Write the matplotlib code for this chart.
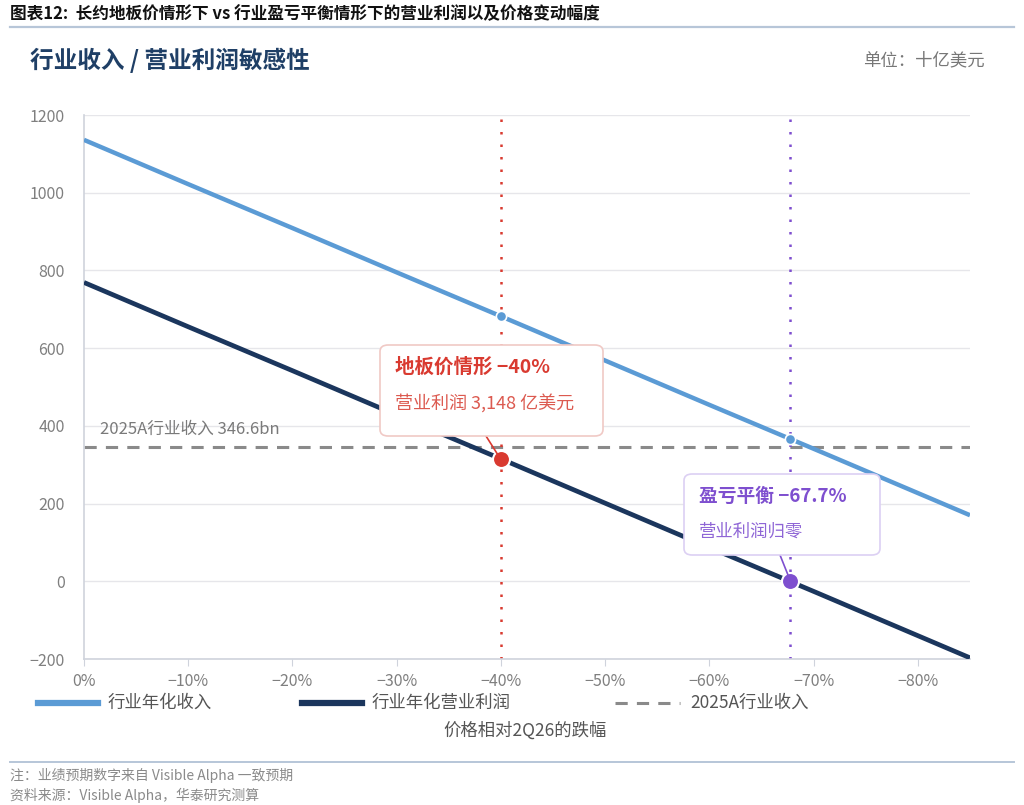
"""
Industry revenue / operating profit sensitivity to price decline.
Writes out.png (1024x805).
"""

import matplotlib.pyplot as plt
from matplotlib.patches import FancyBboxPatch
from matplotlib.lines import Line2D

plt.rcParams["font.family"] = ["Noto Sans CJK SC", "DejaVu Sans"]

# --- data (in bn USD) ----------------------------------------------------
price_drop = [0, -10, -20, -30, -40, -50, -60, -70, -80, -85]
revenue = [1136, 1022, 909, 795, 682, 568, 454, 341, 227, 170]
op_profit = [769, 655, 542, 428, 315, 201, 87, -26, -140, -197]

rev_2025a = 346.6
floor_drop, floor_rev, floor_profit = -40, 682, 314.8
be_drop, be_rev, be_profit = -67.7, 367, 0

x_ticks = [0, -10, -20, -30, -40, -50, -60, -70, -80]
x_tick_labels = ["0%", "−10%", "−20%", "−30%", "−40%", "−50%", "−60%",
                 "−70%", "−80%"]
y_ticks = [-200, 0, 200, 400, 600, 800, 1000, 1200]
y_tick_labels = ["−200", "0", "200", "400", "600", "800", "1000", "1200"]

# --- colours -------------------------------------------------------------
COL_REV = "#5b9bd5"
COL_PROFIT = "#1b365d"
COL_DASH = "#8a8a8a"
COL_RED = "#d93a30"
COL_PURPLE = "#7e4fcf"
COL_GRID = "#e6e6ea"
COL_TICK = "#7f7f7f"
COL_TITLE = "#1f3f66"

W, H = 1024, 805
fig = plt.figure(figsize=(W / 100, H / 100), dpi=100)


def px(x, y):
    """Pixel coords (origin top-left) -> figure fraction."""
    return x / W, 1 - y / H


ax = fig.add_axes([84 / W, 1 - 659 / H, (970 - 84) / W, (659 - 115) / H])

ax.plot(price_drop, revenue, color=COL_REV, lw=3.2, solid_capstyle="butt",
        zorder=3)
ax.plot(price_drop, op_profit, color=COL_PROFIT, lw=3.4,
        solid_capstyle="butt", zorder=3)
ax.axhline(rev_2025a, color=COL_DASH, lw=2.2, ls=(0, (4, 3)), zorder=2)

ax.axvline(floor_drop, color=COL_RED, lw=1.8, ls=(0, (1, 4)), zorder=2)
ax.axvline(be_drop, color=COL_PURPLE, lw=1.8, ls=(0, (1, 4)), zorder=2)

# intersection markers
ax.scatter([floor_drop, be_drop], [floor_rev, be_rev], s=55, color=COL_REV,
           edgecolor="white", linewidth=1.2, zorder=5)
ax.scatter([floor_drop], [floor_profit], s=150, color=COL_RED,
           edgecolor="white", linewidth=1.5, zorder=5)
ax.scatter([be_drop], [be_profit], s=150, color=COL_PURPLE,
           edgecolor="white", linewidth=1.5, zorder=5)

ax.set_xlim(0, -85)
ax.set_ylim(-200, 1200)
ax.set_xticks(x_ticks)
ax.set_xticklabels(x_tick_labels)
ax.set_yticks(y_ticks)
ax.set_yticklabels(y_tick_labels)
ax.tick_params(axis="both", colors=COL_TICK, labelsize=11.5)
ax.tick_params(axis="y", length=0, pad=14)
ax.tick_params(axis="x", length=5, color="#cfd3dc", pad=5)
ax.grid(axis="y", color=COL_GRID, lw=1.0)
ax.set_axisbelow(True)
for side in ("top", "right"):
    ax.spines[side].set_visible(False)
for side in ("left", "bottom"):
    ax.spines[side].set_color("#cfd3dc")
    ax.spines[side].set_linewidth(1.2)

ax.text(-1.5, rev_2025a + 22, "2025A行业收入 346.6bn", color="#7a7a7a",
        fontsize=12, ha="left", va="bottom")

# --- annotation call-outs ------------------------------------------------
def callout(x0, y0, x1, y1, edge, head, body, col_head, col_body, line,
            fs_head, fs_body):
    box = FancyBboxPatch(px(x0, y1), (x1 - x0) / W, (y1 - y0) / H,
                         boxstyle="round,pad=0,rounding_size=0.008",
                         transform=fig.transFigure, facecolor="white",
                         edgecolor=edge, linewidth=1.2, zorder=10)
    fig.add_artist(box)
    fig.text(*px(x0 + 15, y0 + 22), head, fontsize=fs_head,
             fontweight="bold", color=col_head, va="center", ha="left",
             zorder=11)
    fig.text(*px(x0 + 15, y0 + 58), body, fontsize=fs_body, color=col_body,
             va="center", ha="left", zorder=11)
    (lx0, ly0), (lx1, ly1) = line
    fig.add_artist(Line2D([lx0 / W, lx1 / W], [1 - ly0 / H, 1 - ly1 / H],
                          color=col_head, lw=1.2, zorder=9))


callout(380, 345, 603, 436, "#f0c9c5", "地板价情形 −40%",
        "营业利润 3,148 亿美元", COL_RED, "#dc5a50",
        ((486, 436), (498, 455)), 14, 13)
callout(684, 474, 880, 555, "#dcd0f3", "盈亏平衡 −67.7%",
        "营业利润归零", COL_PURPLE, "#8f66d6",
        ((780, 555), (788, 575)), 13.5, 12.5)

# --- legend --------------------------------------------------------------
legend_y = 703
fig.add_artist(Line2D([38 / W, 98 / W], [1 - legend_y / H] * 2,
                      color=COL_REV, lw=4.5))
fig.text(*px(108, legend_y), "行业年化收入", fontsize=12.5, color="#555555",
         va="center")
fig.add_artist(Line2D([302 / W, 362 / W], [1 - legend_y / H] * 2,
                      color=COL_PROFIT, lw=4.5))
fig.text(*px(372, legend_y), "行业年化营业利润", fontsize=12.5,
         color="#555555", va="center")
fig.add_artist(Line2D([615 / W, 680 / W], [1 - legend_y / H] * 2,
                      color=COL_DASH, lw=2.2, ls=(0, (4, 3))))
fig.text(*px(690, legend_y), "2025A行业收入", fontsize=12.5, color="#555555",
         va="center")

fig.text(*px(525, 731), "价格相对2Q26的跌幅", fontsize=12.5, color="#555555",
         ha="center", va="center")

# --- header, title, footer -----------------------------------------------
fig.text(*px(10, 14), "图表12:  长约地板价情形下 vs 行业盈亏平衡情形下的营业利润以及价格变动幅度",
         fontsize=12, fontweight="bold", color="#111111", va="center")
fig.add_artist(Line2D([10 / W, 1014 / W], [1 - 27 / H] * 2,
                      color="#b7c6d8", lw=1.6))
fig.text(*px(30, 60), "行业收入 / 营业利润敏感性", fontsize=17,
         fontweight="bold", color=COL_TITLE, va="center")
fig.text(*px(985, 60), "单位：十亿美元", fontsize=12.5, color="#777777",
         ha="right", va="center")

fig.add_artist(Line2D([10 / W, 1014 / W], [1 - 762 / H] * 2,
                      color="#b7c6d8", lw=1.4))
fig.text(*px(10, 775), "注：业绩预期数字来自 Visible Alpha 一致预期",
         fontsize=10, color="#8a8a8a", va="center")
fig.text(*px(10, 795), "资料来源：Visible Alpha，华泰研究测算",
         fontsize=10, color="#8a8a8a", va="center")

fig.savefig("out.png", dpi=100, facecolor="white")
